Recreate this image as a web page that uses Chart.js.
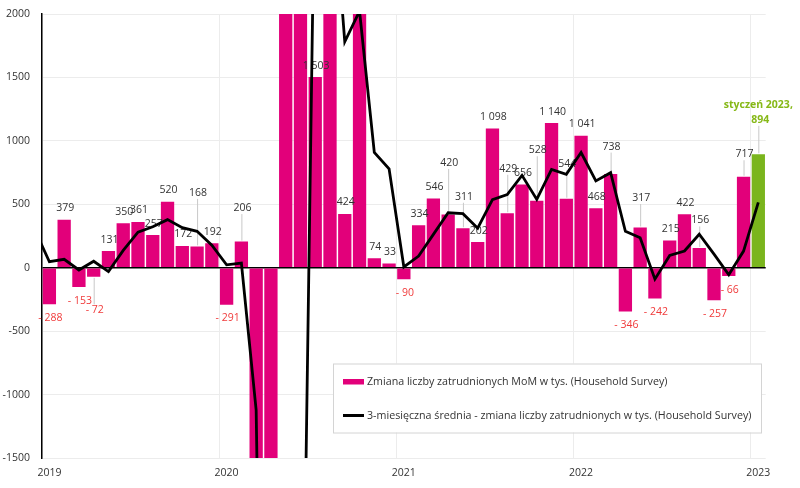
<!DOCTYPE html>
<html><head><meta charset="utf-8">
<script src="https://cdn.jsdelivr.net/npm/chart.js@4.4.1/dist/chart.umd.min.js"></script>
<style>html,body{margin:0;padding:0;background:#fff}#wrap{width:800px;height:488px;position:relative}</style>
</head><body><div id="wrap"><canvas id="c"></canvas></div>
<script>
// Categories: months (first one only carries the leading point of the average line)
const months = [
  '2018-12',
  '2019-01','2019-02','2019-03','2019-04','2019-05','2019-06','2019-07','2019-08','2019-09','2019-10','2019-11','2019-12',
  '2020-01','2020-02','2020-03','2020-04','2020-05','2020-06','2020-07','2020-08','2020-09','2020-10','2020-11','2020-12',
  '2021-01','2021-02','2021-03','2021-04','2021-05','2021-06','2021-07','2021-08','2021-09','2021-10','2021-11','2021-12',
  '2022-01','2022-02','2022-03','2022-04','2022-05','2022-06','2022-07','2022-08','2022-09','2022-10','2022-11','2022-12',
  '2023-01'
];
// Monthly change in employment, thousands (Household Survey)
const momChange = [
  null,
  -288, 379, -153, -72, 131, 350, 361, 257, 520, 172, 168, 192,
  -291, 206, -3280, -22369, 3839, 4940, 1503, 3416, 424, 2230, 74, 33,
  -90, 334, 546, 420, 311, 202, 1098, 429, 656, 528, 1140, 544,
  1041, 468, 738, -346, 317, -242, 215, 422, 156, -257, -66, 717,
  894
];
// 3-month average, thousands
const avg3m = [
  300,
  47, 66, -18, 51, -31, 136, 281, 323, 379, 316, 287, 177,
  23, 36, -1122, -8481, -7270, -4530, 3427, 3286, 1781, 2023, 909, 779,
  6, 92, 263, 433, 426, 311, 537, 576, 728, 538, 775, 737,
  908, 684, 749, 287, 236, -90, 97, 132, 264, 107, -56, 131,
  515
];
const yTicks = [-1500, -1000, -500, 0, 500, 1000, 1500, 2000];
const seriesNames = [
  'Zmiana liczby zatrudnionych MoM w tys. (Household Survey)',
  '3-miesięczna średnia - zmiana liczby zatrudnionych w tys. (Household Survey)'
];
const lastLabelTitle = 'styczeń 2023,';

// Layout-only: extra pixel displacement of some value labels (with leader lines)
const labelLift = {4: 20, 11: 42, 14: 22, 28: 40, 29: 20, 32: 33, 34: 39, 36: 23, 39: 16, 41: 18, 45: 16, 48: 11, 49: 23};

const MAGENTA = '#e2007a';
const GREEN = '#7ab51d';
const GREEN_TXT = '#86b817';
const RED_TXT = '#f03a3a';
const TXT = '#333333';
const FONT = "'Open Sans', 'Noto Sans', sans-serif";

function fmt(v) {
  const a = String(Math.abs(v)).replace(/\B(?=(\d{3})+(?!\d))/g, ' ');
  return v < 0 ? '- ' + a : a;
}

const labelPlugin = {
  id: 'barLabels',
  afterDatasetDraw(chart, args) {
    if (args.index !== 0) return;
    const ctx = chart.ctx;
    const meta = args.meta;
    const ys = chart.scales.y;
    ctx.save();
    ctx.textAlign = 'center';
    ctx.textBaseline = 'middle';
    meta.data.forEach((bar, i) => {
      const v = momChange[i];
      if (v == null || v > ys.max || v < ys.min) return;
      const lift = labelLift[i] || 0;
      const x = bar.x + 1;
      const isLast = i === momChange.length - 1;
      let y;
      if (v >= 0) y = bar.y - 11.5 - lift; else y = bar.y + 13.5 + lift;
      if (lift > 0) {
        ctx.strokeStyle = '#c8c8c8';
        ctx.lineWidth = 1;
        ctx.beginPath();
        if (v >= 0) { ctx.moveTo(bar.x + 0.5, y + 6); ctx.lineTo(bar.x + 0.5, bar.y - 1); }
        else { ctx.moveTo(bar.x + 0.5, bar.y + 1); ctx.lineTo(bar.x + 0.5, y - 6); }
        ctx.stroke();
      }
      if (isLast) {
        ctx.fillStyle = GREEN_TXT;
        ctx.font = "bold 10.5px " + FONT;
        ctx.fillText(lastLabelTitle, x - 1, y - 14.3);
        ctx.fillText(fmt(v), x + 1, y);
      } else {
        ctx.fillStyle = v < 0 ? RED_TXT : TXT;
        ctx.font = "10.5px " + FONT;
        ctx.fillText(fmt(v), x, y);
      }
    });
    ctx.restore();
  }
};

const legendPlugin = {
  id: 'boxLegend',
  afterDraw(chart) {
    const ctx = chart.ctx;
    ctx.save();
    const bx = 333, by = 363.5, bw = 428, bh = 69;
    ctx.fillStyle = '#ffffff';
    ctx.fillRect(bx, by, bw, bh);
    ctx.strokeStyle = '#d4d4d4';
    ctx.lineWidth = 1;
    ctx.strokeRect(bx + 0.5, by + 0.5, bw, bh);
    ctx.fillStyle = MAGENTA;
    ctx.fillRect(343, 379, 21, 5.5);
    ctx.strokeStyle = '#000';
    ctx.lineWidth = 3;
    ctx.beginPath(); ctx.moveTo(343, 415.5); ctx.lineTo(364, 415.5); ctx.stroke();
    ctx.fillStyle = TXT;
    ctx.font = "10.7px " + FONT;
    ctx.textAlign = 'left';
    ctx.textBaseline = 'middle';
    ctx.fillText(seriesNames[0], 367, 382);
    ctx.fillText(seriesNames[1], 367, 416);
    ctx.restore();
  }
};

new Chart(document.getElementById('c'), {
  data: {
    labels: months,
    datasets: [
      {
        type: 'bar',
        label: seriesNames[0],
        data: momChange,
        backgroundColor: months.map((m, i) => i === months.length - 1 ? GREEN : MAGENTA),
        categoryPercentage: 1,
        barPercentage: 0.9,
        order: 1,
        clip: 0
      },
      {
        type: 'line',
        label: seriesNames[1],
        data: avg3m,
        borderColor: '#000000',
        borderWidth: 2.8,
        pointRadius: 0,
        tension: 0,
        order: 0,
        clip: 0
      }
    ]
  },
  options: {
    responsive: true,
    maintainAspectRatio: false,
    animation: false,
    layout: { padding: { left: 0, right: 34.3, top: 14, bottom: 0 } },
    plugins: { legend: { display: false }, tooltip: { enabled: false } },
    scales: {
      x: {
        type: 'category',
        min: '2019-01',
        offset: true,
        border: { display: false },
        grid: {
          offset: true,
          drawTicks: false,
          color: (c) => {
            if (!c.tick) return 'rgba(0,0,0,0)';
            const lab = months[c.tick.value];
            return lab && lab.endsWith('-01') ? '#ececec' : 'rgba(0,0,0,0)';
          },
          lineWidth: 1
        },
        ticks: {
          autoSkip: false,
          maxRotation: 0,
          padding: 9,
          color: TXT,
          font: { family: FONT, size: 10.5 },
          callback: function (val) {
            const lab = months[val];
            return lab && lab.endsWith('-01') ? lab.slice(0, 4) : '';
          }
        },
        afterFit: (s) => { s.height = 30; }
      },
      y: {
        min: -1500,
        max: 2000,
        afterBuildTicks: (s) => { s.ticks = yTicks.map(v => ({ value: v })); },
        border: { display: true, color: '#000', width: 1.5 },
        grid: {
          drawTicks: true,
          tickLength: 12,
          tickColor: 'rgba(0,0,0,0)',
          color: (c) => c.tick && c.tick.value === 0 ? '#000000' : '#ececec',
          lineWidth: (c) => c.tick && c.tick.value === 0 ? 1.5 : 1
        },
        ticks: {
          padding: 0,
          color: TXT,
          font: { family: FONT, size: 10.5 },
          callback: (v) => String(v)
        },
        afterFit: (s) => { s.width = 42; }
      }
    }
  },
  plugins: [labelPlugin, legendPlugin]
});
</script>
</body></html>
